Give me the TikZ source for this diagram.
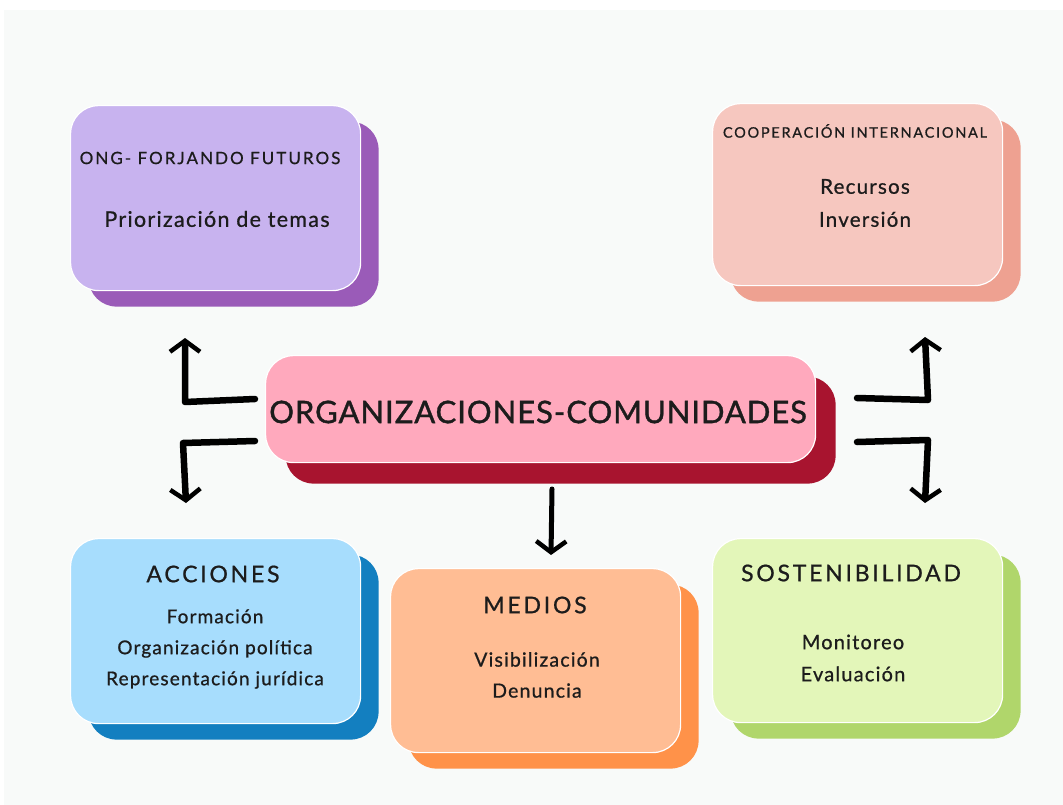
\documentclass[tikz,border=0pt]{standalone}
\usepackage{fontspec}
\setmainfont{Lato}
\newfontfamily\capsfont[LetterSpace=12,FakeBold=0.8]{Lato}
\newfontfamily\centfont[LetterSpace=3,FakeBold=1.2]{Lato}
\newfontfamily\bodyfont[LetterSpace=6,FakeBold=0.8]{Lato}
\usetikzlibrary{arrows.meta,shadows}
\definecolor{bgc}{HTML}{F8FAF9}
\definecolor{txt}{HTML}{1C1C1C}
\definecolor{purF}{HTML}{C8B3EF}
\definecolor{purB}{HTML}{9A5BB8}
\definecolor{cooF}{HTML}{F6C7BF}
\definecolor{cooB}{HTML}{EEA191}
\definecolor{cenF}{HTML}{FFA9BD}
\definecolor{cenB}{HTML}{A8142F}
\definecolor{accF}{HTML}{A7DDFD}
\definecolor{accB}{HTML}{137FC0}
\definecolor{medF}{HTML}{FFBD94}
\definecolor{medB}{HTML}{FF9249}
\definecolor{sosF}{HTML}{E3F6B9}
\definecolor{sosB}{HTML}{B0D66B}
\begin{document}
\begin{tikzpicture}[x=1pt,y=-1pt,
  card/.style={rounded corners=28pt, draw=white, line width=1.2pt, anchor=north west,
    inner sep=0pt, minimum width=290pt, minimum height=185pt},
  back/.style={general shadow={fill=#1, draw=none, shadow xshift=18pt, shadow yshift=-16pt}},
  title/.style={text=txt, font=\capsfont\fontsize{23}{26}\selectfont, inner sep=0pt},
  smalltitle/.style={text=txt, font=\capsfont\fontsize{17}{20}\selectfont, inner sep=0pt},
  body/.style={text=txt, font=\bodyfont\fontsize{19.5}{31}\selectfont, align=center, inner sep=0pt},
  conn/.style={line width=6.5pt, line join=round, line cap=round,
    -{Straight Barb[length=11pt,width=30pt,line width=4.5pt]}}]
\useasboundingbox (0,0) rectangle (1063,805);
\fill[bgc] (4,10) rectangle (1063,805);

% cards
\node[card, fill=purF, back=purB] (ong) at (70,105) {};
\node[card, fill=cooF, back=cooB, minimum height=182pt] (coop) at (712,103) {};
\node[card, fill=accF, back=accB] (acc) at (70,538) {};
\node[card, fill=medF, back=medB, minimum height=184pt] (med) at (390,568) {};
\node[card, fill=sosF, back=sosB, minimum height=184pt] (sos) at (712,538) {};
\node[card, fill=cenF, minimum width=550pt, minimum height=107pt,
  general shadow={fill=cenB, draw=none, shadow xshift=20pt, shadow yshift=-21pt}] (cen) at (265,355) {};

% texts
\node[smalltitle] (ongT) at (210,158) {ONG- FORJANDO FUTUROS};
\node[body, font=\bodyfont\fontsize{21.5}{31}\selectfont] (ongB) at (217,219) {Priorización de temas};

\node[smalltitle, font=\capsfont\fontsize{14.5}{16}\selectfont] (coopT) at (855,131) {COOPERACIÓN INTERNACIONAL};
\node[body, font=\bodyfont\fontsize{20.5}{33}\selectfont] (coopB) at (865,203) {Recursos\\Inversión};

\node[text=txt, font=\centfont\fontsize{31}{34}\selectfont, inner sep=0pt] (cenT) at (538,412) {ORGANIZACIONES-COMUNIDADES};

\node[title] (accT) at (213,574) {ACCIONES};
\node[body, font=\bodyfont\fontsize{19}{31}\selectfont] (accB) at (215,649) {Formación\\Organización política\\Representación jurídica};

\node[title] (medT) at (535,605) {MEDIOS};
\node[body] (medB) at (537,675) {Visibilización\\Denuncia};

\node[title] (sosT) at (851,573) {SOSTENIBILIDAD};
\node[body, font=\bodyfont\fontsize{20}{32}\selectfont] (sosB) at (853,658) {Monitoreo\\Evaluación};

% arrows
\coordinate (a1s) at (255,399);
\coordinate (a1c) at (185,402);
\coordinate (a1e) at (185,338);
\coordinate (a2s) at (255,441);
\coordinate (a2c) at (183,443);
\coordinate (a2e) at (186,503);
\coordinate (a3s) at (857,398);
\coordinate (a3c) at (928,400);
\coordinate (a3e) at (925,337);
\coordinate (a4s) at (857,442);
\coordinate (a4c) at (928,440);
\coordinate (a4e) at (925,503);
\coordinate (a5s) at (552,489);
\coordinate (a5e) at (551,555);
\draw[conn] (a1s) -- (a1c) -- (a1e);
\draw[conn] (a2s) -- (a2c) -- (a2e);
\draw[conn] (a3s) -- (a3c) -- (a3e);
\draw[conn] (a4s) -- (a4c) -- (a4e);
\draw[conn, line width=5pt] (a5s) -- (a5e);
\end{tikzpicture}
\end{document}
